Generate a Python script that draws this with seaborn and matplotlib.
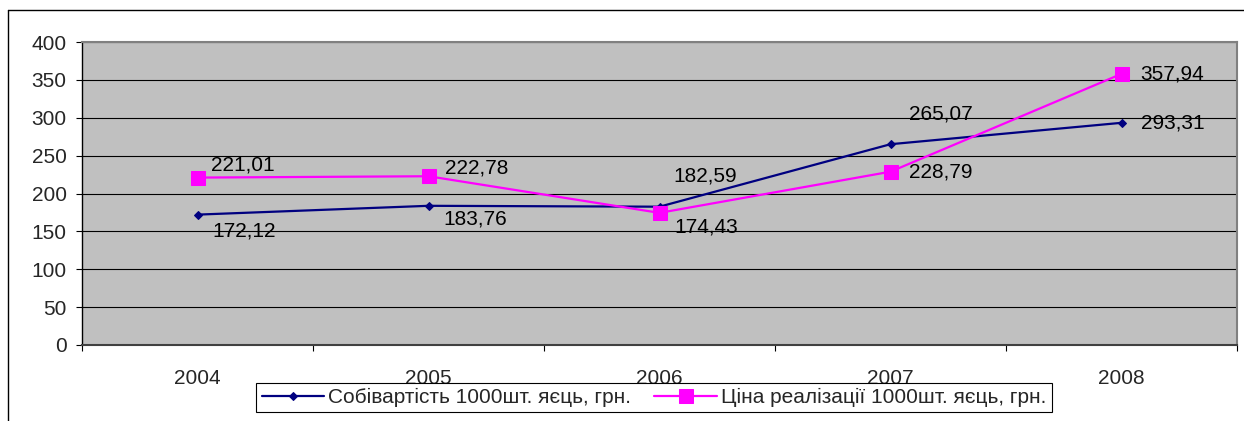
import numpy as np
import pandas as pd
import seaborn as sns
import matplotlib.pyplot as plt
from matplotlib.lines import Line2D
from matplotlib.ticker import MultipleLocator, FixedLocator

years = ['2004', '2005', '2006', '2007', '2008']
cost = [172.12, 183.76, 182.59, 265.07, 293.31]
price = [221.01, 222.78, 174.43, 228.79, 357.94]
cost_name = 'Собівартість 1000шт. яєць, грн.'
price_name = 'Ціна реалізації 1000шт. яєць, грн.'

# where each value label sits, in pixels from its point (dx, dy up)
cost_offsets = [(15, -16), (15, -13), (14, 31), (18, 30), (19, 0)]
price_offsets = [(14, 13), (16, 8), (15, -14), (18, 0), (19, 0)]

FS = 15

df = pd.DataFrame({'x': range(len(years)), 'cost': cost, 'price': price})

sns.set_style('white')
plt.rcParams['font.family'] = ['Liberation Sans', 'DejaVu Sans']

fig = plt.figure(figsize=(12.44, 4.21), dpi=100)
ax = fig.add_axes([82 / 1244, 1 - 345 / 421, 1155 / 1244, 303 / 421])
ax.set_facecolor('#C0C0C0')

sns.lineplot(data=df, x='x', y='cost', color='#000080', lw=1.6, marker='D',
             markersize=4, markeredgecolor='#000080', label=cost_name, ax=ax, zorder=3)
sns.lineplot(data=df, x='x', y='price', color='#FF00FF', lw=1.6, marker='s',
             markersize=10, markeredgecolor='#FF00FF', label=price_name, ax=ax, zorder=4)

def fmt(v):
    return f'{v:.2f}'.replace('.', ',')

for vals, offs in [(cost, cost_offsets), (price, price_offsets)]:
    for i, (v, (dx, dy)) in enumerate(zip(vals, offs)):
        ax.annotate(fmt(v), (i, v), xytext=(dx, dy), textcoords='offset pixels',
                    ha='left', va='center', fontsize=FS, color='black', zorder=5)

ax.set_xlim(-0.5, len(years) - 0.5)
ax.set_ylim(0, 400)
ax.yaxis.set_major_locator(MultipleLocator(50))
ax.grid(axis='y', color='black', lw=0.8)
ax.grid(axis='x', visible=False)
ax.set_axisbelow(True)
ax.set_xticks(range(len(years)))
ax.set_xticklabels(years)
ax.xaxis.set_minor_locator(FixedLocator(np.arange(-0.5, len(years), 1)))
ax.tick_params(axis='x', which='major', length=0, pad=17, labelsize=FS)
ax.tick_params(axis='x', which='minor', length=4, width=0.8, color='black', bottom=True)
ax.tick_params(axis='y', length=4, width=0.8, color='black', pad=7, labelsize=FS, left=True)
ax.set_xlabel('')
ax.set_ylabel('')

for side in ['top', 'right']:
    ax.spines[side].set_color('#808080')
    ax.spines[side].set_linewidth(1.5)
ax.spines['left'].set_color('black')
ax.spines['bottom'].set_color('#404040')
ax.spines['left'].set_linewidth(1)
ax.spines['bottom'].set_linewidth(1.5)

leg = ax.legend(loc='center', bbox_to_anchor=(654 / 1244, 1 - 397.5 / 421),
                bbox_transform=fig.transFigure, ncol=2, frameon=True, fancybox=False,
                edgecolor='black', framealpha=1, fontsize=FS, handlelength=3,
                handletextpad=0.2, columnspacing=1.1, borderpad=0.25, borderaxespad=0)
leg.get_frame().set_linewidth(0.8)
leg.set_zorder(10)

# outer chart frame
fig.add_artist(Line2D([8 / 1244, 8 / 1244], [0, 1 - 10 / 421], transform=fig.transFigure,
                      color='black', lw=1))
fig.add_artist(Line2D([8 / 1244, 1], [1 - 10 / 421, 1 - 10 / 421], transform=fig.transFigure,
                      color='black', lw=1))

fig.savefig('out.png', dpi=100)
